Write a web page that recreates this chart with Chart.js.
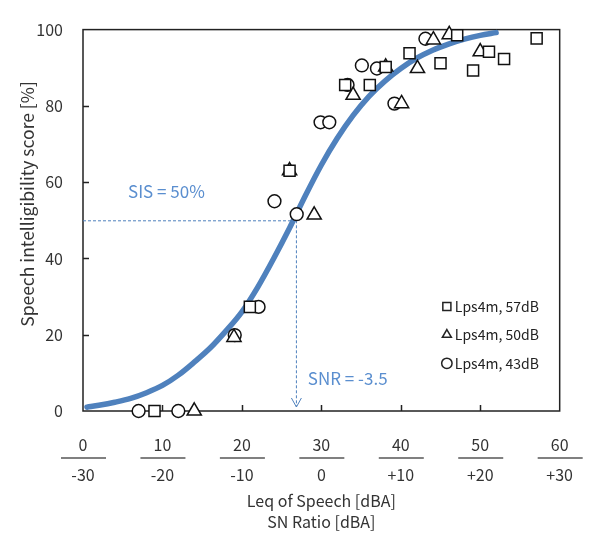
<!DOCTYPE html>
<html><head><meta charset="utf-8">
<script src="https://cdn.jsdelivr.net/npm/chart.js@4.4.0/dist/chart.umd.min.js"></script>
<style>html,body{margin:0;padding:0;background:#fff;}</style>
</head><body>
<canvas id="c" width="592" height="534"></canvas>
<script>
const FONT = '"Noto Sans CJK KR", "Noto Sans", sans-serif';

// X tick labels: Leq of speech (top) and SN ratio (bottom)
const xTickTop = ['0','10','20','30','40','50','60'];
const xTickBottom = ['-30','-20','-10','0','+10','+20','+30'];

// Lps4m, 57dB (squares)
const sq57X = [9, 21, 26, 33, 36.1, 38.1, 41.1, 45, 47.1, 49.1, 51.1, 53, 57.1];
const sq57Y = [0, 27.3, 63, 85.5, 85.5, 90.2, 93.8, 91.2, 98.5, 89.3, 94.2, 92.3, 97.7];

// Lps4m, 50dB (triangles)
const tri50X = [14, 19, 26, 29.1, 34, 38.1, 40.1, 42.1, 44.1, 46.1, 50];
const tri50Y = [0, 19.3, 63, 51.4, 82.8, 90.2, 80.6, 89.8, 97.3, 98.7, 94.2];

// Lps4m, 43dB (circles)
const cir43X = [7, 12, 19.1, 22.1, 24.1, 26.9, 29.9, 31, 33.3, 35.1, 37, 39.2, 43.1];
const cir43Y = [0, 0, 19.9, 27.3, 55.0, 51.6, 75.7, 75.7, 85.5, 90.6, 89.8, 80.6, 97.6];

// Fitted curve
const fitX = [0.5, 2, 4, 6, 8, 10, 12, 14, 16, 18, 20, 22, 24, 26, 28, 30, 32, 34, 36, 38, 40, 42, 44, 46, 48, 50, 52];
const fitY = [1.0, 1.5, 2.3, 3.3, 4.8, 6.7, 9.4, 12.8, 16.5, 21.0, 26.0, 32.5, 40.0, 48.0, 56.5, 64.5, 71.5, 77.5, 82.5, 86.5, 89.8, 92.5, 94.6, 96.2, 97.5, 98.5, 99.2];

// Annotation values
const sisValue = 50;
const snrLeq = 26.8;

const legendLabels = ['Lps4m, 57dB', 'Lps4m, 50dB', 'Lps4m, 43dB'];
const legendStyles = ['rect', 'triangle', 'circle'];
const yTitle = 'Speech intelligibility score [%]';

const pts = (xs, ys) => xs.map((x, i) => ({x, y: ys[i]}));
const BLUE = '#4F81BD';
const BLUE_TXT = '#5A8ECF';

const deco = {
  id: 'deco',
  beforeDatasetsDraw(chart) {
    const {ctx, chartArea: a, scales: {x, y}} = chart;
    ctx.save();
    // inner ticks
    ctx.strokeStyle = '#222';
    ctx.lineWidth = 1.5;
    ctx.beginPath();
    [20, 40, 60, 80].forEach(v => {
      const p = Math.round(y.getPixelForValue(v)) + 0.5;
      ctx.moveTo(a.left, p); ctx.lineTo(a.left + 6, p);
    });
    [10, 20, 30, 40, 50].forEach(v => {
      const p = Math.round(x.getPixelForValue(v)) + 0.5;
      ctx.moveTo(p, a.bottom); ctx.lineTo(p, a.bottom - 6);
    });
    ctx.stroke();
    // frame
    ctx.strokeRect(a.left, a.top, a.right - a.left, a.bottom - a.top);
    // separators between the two tick label rows
    ctx.strokeStyle = '#808080';
    ctx.lineWidth = 2;
    ctx.beginPath();
    x.ticks.forEach(t => {
      const p = x.getPixelForValue(t.value);
      ctx.moveTo(p - 22, 458); ctx.lineTo(p + 23, 458);
    });
    ctx.stroke();

    // y title (rotated)
    ctx.save();
    ctx.translate(27, 204);
    ctx.rotate(-Math.PI / 2);
    ctx.fillStyle = '#333';
    ctx.font = '17.5px ' + FONT;
    ctx.textAlign = 'center';
    ctx.textBaseline = 'middle';
    ctx.fillText(yTitle, 0, 0);
    ctx.restore();

    // dashed guides
    ctx.strokeStyle = BLUE;
    ctx.lineWidth = 1;
    ctx.setLineDash([3, 2]);
    const px = x.getPixelForValue(snrLeq), py = y.getPixelForValue(sisValue);
    ctx.beginPath();
    ctx.moveTo(x.getPixelForValue(0), py + 0.5);
    ctx.lineTo(px, py + 0.5);
    ctx.moveTo(px + 0.5, py);
    ctx.lineTo(px + 0.5, y.getPixelForValue(0) - 4);
    ctx.stroke();
    ctx.setLineDash([]);
    const tipY = y.getPixelForValue(0) - 4;
    ctx.beginPath();
    ctx.moveTo(px + 0.5 - 5, tipY - 9);
    ctx.lineTo(px + 0.5, tipY);
    ctx.lineTo(px + 0.5 + 5, tipY - 9);
    ctx.stroke();
    ctx.fillStyle = BLUE_TXT;
    ctx.font = '17px ' + FONT;
    ctx.textBaseline = 'middle';
    ctx.textAlign = 'center';
    ctx.fillText('SIS = 50%', x.getPixelForValue(10.5), y.getPixelForValue(57.6));
    ctx.textAlign = 'left';
    ctx.fillText('SNR = -3.5', x.getPixelForValue(28.3), y.getPixelForValue(8.5));
    ctx.restore();
  },
  afterDraw(chart) {
    const {ctx, scales: {x, y}} = chart;
    ctx.save();
    // legend
    const rowsY = [27.4, 20.0, 12.5];
    ctx.font = '14px ' + FONT;
    ctx.textAlign = 'left';
    ctx.textBaseline = 'middle';
    legendLabels.forEach((lab, i) => {
      const mx = x.getPixelForValue(45.8), my = y.getPixelForValue(rowsY[i]);
      ctx.strokeStyle = '#222';
      ctx.lineWidth = 1.5;
      ctx.fillStyle = '#fff';
      Chart.helpers.drawPoint(ctx, {pointStyle: legendStyles[i], radius: legendStyles[i] === 'rect' ? 5.7 : 5.2, rotation: 0, borderWidth: 1.5}, mx, my);
      ctx.fillStyle = '#222';
      ctx.fillText(lab, x.getPixelForValue(46.8), my);
    });
    ctx.restore();
  }
};

const markerBase = {showLine: false, borderColor: '#111', backgroundColor: '#fff', pointBorderWidth: 1.5, order: 1};

new Chart(document.getElementById('c'), {
  type: 'scatter',
  data: {
    datasets: [
      {label: 'fit', data: pts(fitX, fitY), showLine: true, borderColor: BLUE, borderWidth: 5.5, pointRadius: 0, cubicInterpolationMode: 'monotone', order: 10, borderCapStyle: 'round'},
      {...markerBase, label: legendLabels[0], data: pts(sq57X, sq57Y), pointStyle: 'rect', pointRadius: 7.8},
      {...markerBase, label: legendLabels[1], data: pts(tri50X, tri50Y), pointStyle: 'triangle', pointRadius: 8.2},
      {...markerBase, label: legendLabels[2], data: pts(cir43X, cir43Y), pointStyle: 'circle', pointRadius: 6.4}
    ]
  },
  options: {
    responsive: false,
    devicePixelRatio: 1,
    animation: false,
    clip: false,
    layout: {padding: {top: 20, right: 28, left: 0, bottom: 0}},
    plugins: {legend: {display: false}, tooltip: {enabled: false}},
    scales: {
      x: {
        type: 'linear', min: 0, max: 60,
        afterFit(s) { s.height = 123; },
        grid: {display: false, drawTicks: false},
        border: {display: false},
        ticks: {
          stepSize: 10, padding: 19, color: '#333',
          font: {family: FONT, size: 16, lineHeight: 30 / 16},
          maxRotation: 0,
          callback: (v, i) => [xTickTop[i], xTickBottom[i]]
        },
        title: {display: true, text: ['Leq of Speech [dBA]', 'SN Ratio [dBA]'], color: '#333',
          font: {family: FONT, size: 16, lineHeight: 1.3}, padding: {top: 0, bottom: 2}}
      },
      y: {
        type: 'linear', min: 0, max: 100,
        afterFit(s) { s.width = 83; },
        grid: {display: false, drawTicks: false},
        border: {display: false},
        ticks: {stepSize: 20, padding: 20, color: '#333', font: {family: FONT, size: 16}},
        title: {display: false}
      }
    }
  },
  plugins: [deco]
});
</script>
</body></html>
